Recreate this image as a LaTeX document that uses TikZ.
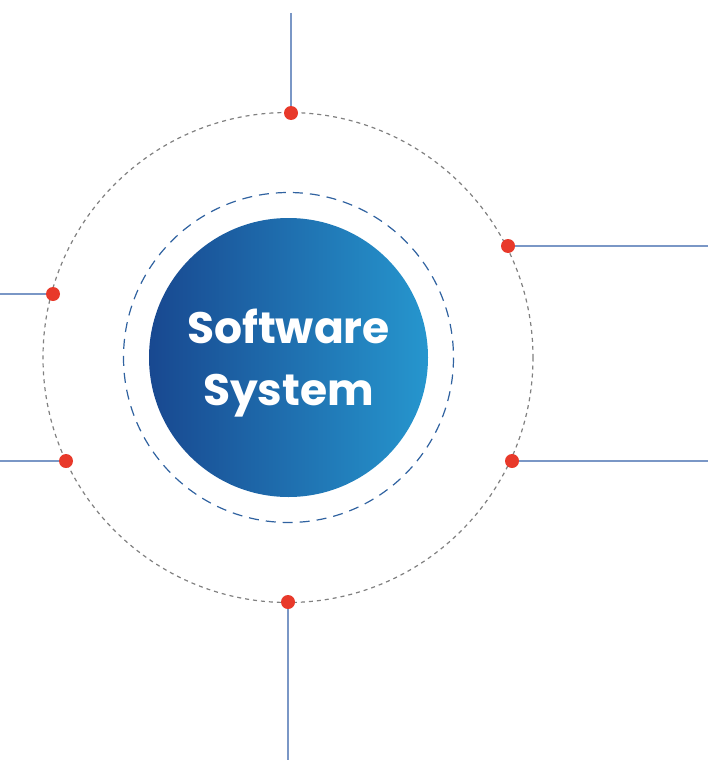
\documentclass[tikz,border=0pt]{standalone}
\usepackage{fontspec}
\setmainfont{Poppins}
\usepackage{tikz}
\usetikzlibrary{shapes}

\definecolor{dotred}{RGB}{232,57,42}
\definecolor{feedblue}{RGB}{122,151,198}
\definecolor{ringgray}{RGB}{128,128,128}
\definecolor{ringblue}{RGB}{48,98,160}
\definecolor{coreleft}{RGB}{24,72,144}
\definecolor{coreright}{RGB}{38,150,206}

\tikzset{
  reddot/.style={circle, fill=dotred, inner sep=0pt, minimum size=14},
  feedline/.style={draw=feedblue, line width=1.5},
  outerring/.style={draw=ringgray, line width=1.2, dash pattern={on 4pt off 4pt}},
  innerring/.style={draw=ringblue, line width=1.2, dash pattern={on 10pt off 7pt}},
}

\begin{document}
\begin{tikzpicture}[x=1pt,y=1pt,yscale=-1,xscale=1]
\useasboundingbox (0,0) rectangle (708,760);

%Shape: Circle [outer ring]
\draw [outerring] (288,357.5) circle (245);
%Shape: Circle [inner ring]
\draw [innerring] (288.5,357.5) circle (165);

%Shape: Circle [core]
\node [circle, minimum size=279, inner sep=0pt, left color=coreleft, right color=coreright] (core) at (288.5,357.5) {};

% Text Node
\node [text=white, align=center, font=\bfseries\fontsize{44}{62}\selectfont] (label) at (288.5,363) {Software\\System};

% Free ends
\coordinate (etop) at (291,13);
\coordinate (eupright) at (708,246);
\coordinate (eupleft) at (0,294);
\coordinate (elowleft) at (0,461);
\coordinate (elowright) at (708,461);
\coordinate (ebottom) at (288,760);

% Dots
\node [reddot] (ptop) at (291,113) {};
\node [reddot] (pupright) at (508,246) {};
\node [reddot] (pupleft) at (53,294) {};
\node [reddot] (plowleft) at (66,461) {};
\node [reddot] (plowright) at (512,461) {};
\node [reddot] (pbottom) at (288,602) {};

%Straight Lines
\draw [feedline] (etop) -- (ptop);
\draw [feedline] (pupright) -- (eupright);
\draw [feedline] (eupleft) -- (pupleft);
\draw [feedline] (elowleft) -- (plowleft);
\draw [feedline] (plowright) -- (elowright);
\draw [feedline] (pbottom) -- (ebottom);

\end{tikzpicture}
\end{document}
